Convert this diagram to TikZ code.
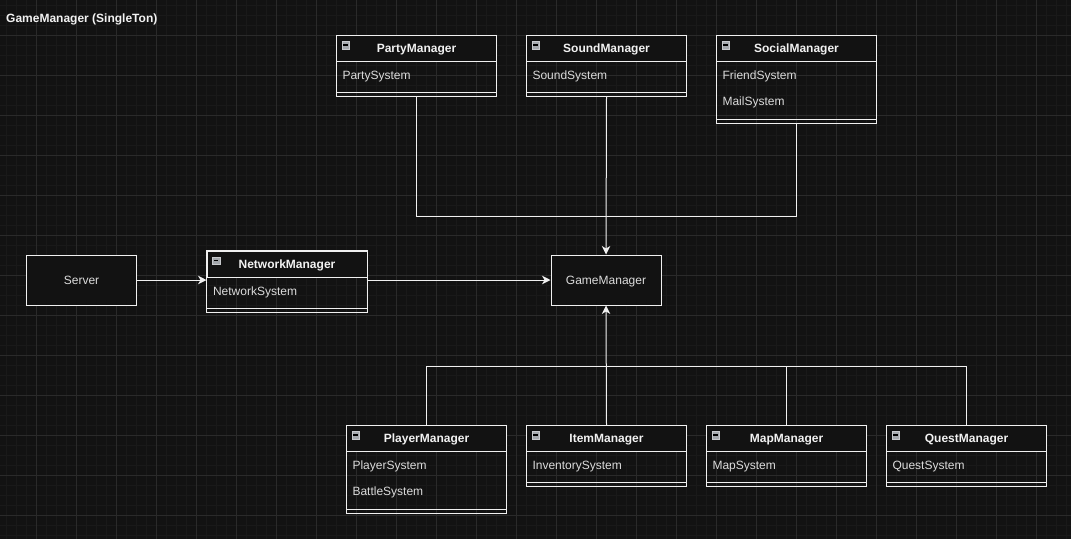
\documentclass[tikz,border=0pt]{standalone}
\usepackage{fontspec}
\setmainfont{Liberation Sans}
\usetikzlibrary{positioning,arrows.meta}

\definecolor{canvasbg}{HTML}{121212}
\definecolor{gridmajor}{HTML}{2A2A2A}
\definecolor{gridminor}{HTML}{191919}
\definecolor{wire}{HTML}{F0F0F0}
\definecolor{headtext}{HTML}{F2F2F2}
\definecolor{fieldtext}{HTML}{DCDCDC}
\definecolor{iconfill}{HTML}{A3A7AC}

\tikzset{
  head/.style={draw=wire, fill=canvasbg, line width=1pt, minimum width=160pt,
    minimum height=26pt, inner sep=0pt, anchor=north west, text=headtext,
    text height=10pt, text depth=1.4pt,
    font=\fontsize{12}{14}\selectfont\bfseries},
  field/.style={minimum width=160pt, minimum height=26pt, text width=148pt,
    text height=10pt, text depth=1.4pt,
    align=left, inner sep=0pt, text=fieldtext},
  sepbar/.style={minimum width=160pt, minimum height=8pt, inner sep=0pt},
  outline/.style={draw=wire, line width=1pt},
  collapse/.style={draw=iconfill!60!white, fill=iconfill, minimum size=7.5pt,
    inner sep=0pt, anchor=north west,
    path picture={\draw[black, line width=1.3pt]
      ([xshift=1.6pt]path picture bounding box.west) --
      ([xshift=-1.6pt]path picture bounding box.east);}},
  plainbox/.style={draw=wire, fill=canvasbg, line width=1pt, minimum width=110pt,
    minimum height=50pt, inner sep=0pt, text=fieldtext,
    text height=10pt, text depth=1.4pt},
  link/.style={draw=wire, line width=1pt},
  arrow/.style={link, -{Stealth[length=8.5pt, width=8.5pt, inset=2.5pt]}}
}

\begin{document}
\begin{tikzpicture}[x=1pt, y=-1pt, font=\fontsize{12}{14}\selectfont]

    % Canvas and grid
    \fill[canvasbg] (0,0) rectangle (1071,539);
    \useasboundingbox (0,0) rectangle (1071,539);
    \foreach \x in {6,16,...,1066} \draw[gridminor, line width=0.6pt] (\x,0) -- (\x,539);
    \foreach \y in {5,15,...,535} \draw[gridminor, line width=0.6pt] (0,\y) -- (1071,\y);
    \foreach \x in {36,76,...,1036} \draw[gridmajor, line width=0.8pt] (\x,0) -- (\x,539);
    \foreach \y in {35,75,...,515} \draw[gridmajor, line width=0.8pt] (0,\y) -- (1071,\y);

    % Title
    \node[anchor=west, inner sep=0pt, text=headtext, text height=10pt, text depth=1.4pt,
      font=\fontsize{12}{14}\selectfont\bfseries]
      (title) at (6,18) {GameManager (SingleTon)};

    % Top managers
    \node[head] (party) at (336,35) {PartyManager};
    \node[field, below=0pt of party] (partyA) {PartySystem};
    \node[sepbar, below=0pt of partyA] (partyE) {};

    \node[head] (sound) at (526,35) {SoundManager};
    \node[field, below=0pt of sound] (soundA) {SoundSystem};
    \node[sepbar, below=0pt of soundA] (soundE) {};

    \node[head] (social) at (716,35) {SocialManager};
    \node[field, below=0pt of social] (socialA) {FriendSystem};
    \node[field, below=0pt of socialA] (socialB) {MailSystem};
    \node[sepbar, below=0pt of socialB] (socialE) {};

    % Middle row
    \node[plainbox] (server) at (81.5,280) {Server};
    \node[head] (network) at (206.5,250.5) {NetworkManager};
    \node[field, below=0pt of network] (networkA) {NetworkSystem};
    \node[sepbar, below=0pt of networkA] (networkE) {};
    \node[plainbox] (game) at (606,280) {GameManager};

    % Bottom managers
    \node[head] (player) at (346,425) {PlayerManager};
    \node[field, below=0pt of player] (playerA) {PlayerSystem};
    \node[field, below=0pt of playerA] (playerB) {BattleSystem};
    \node[sepbar, below=0pt of playerB] (playerE) {};

    \node[head] (item) at (526,425) {ItemManager};
    \node[field, below=0pt of item] (itemA) {InventorySystem};
    \node[sepbar, below=0pt of itemA] (itemE) {};

    \node[head] (map) at (706,425) {MapManager};
    \node[field, below=0pt of map] (mapA) {MapSystem};
    \node[sepbar, below=0pt of mapA] (mapE) {};

    \node[head] (quest) at (886,425) {QuestManager};
    \node[field, below=0pt of quest] (questA) {QuestSystem};
    \node[sepbar, below=0pt of questA] (questE) {};

    % Class outlines, separators and collapse icons
    \foreach \c in {party,sound,social,network,player,item,map,quest} {
      \draw[outline] (\c.north west) rectangle (\c E.south east);
      \draw[outline] (\c E.west) -- (\c E.east);
      \node[collapse] at ([xshift=5.5pt, yshift=-6pt]\c.north west) {};
    }

    % Connect the nodes
    \draw[link] (partyE.south) -- ++(0,120) -| (socialE.south);
    \draw[arrow] (soundE.south) -- (game.north);
    \draw[arrow] (server.east) -- (server.east -| network.west);
    \draw[arrow] (game.west -| network.east) -- (game.west);
    \draw[link] (player.north) -- ++(0,-59) -| (quest.north);
    \draw[link] (map.north) -- ++(0,-59);
    \draw[arrow] (item.north) -- (game.south);

\end{tikzpicture}
\end{document}
